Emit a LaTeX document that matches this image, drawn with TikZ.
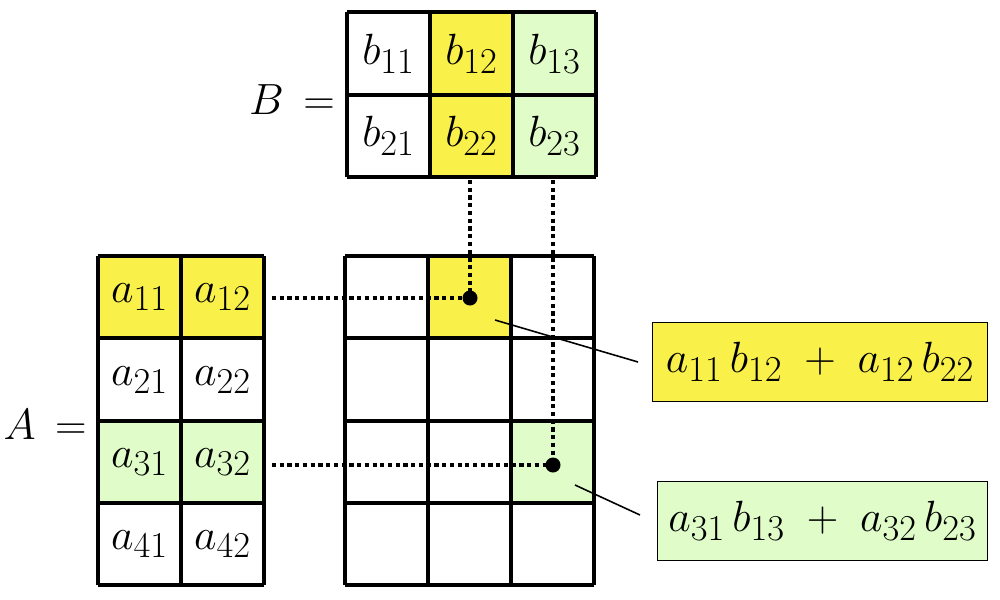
\documentclass[tikz,border=0pt]{standalone}
\begin{document}
\begin{tikzpicture}[x=0.02cm,y=-0.02cm,
  grid/.style={line width=2.2pt},
  dots/.style={line width=2.4pt,dotted},
  txt/.style={font=\fontsize{27.5}{32}\selectfont},
  box/.style={draw,line width=0.6pt,minimum height=1.58cm,inner sep=4pt,font=\fontsize{27.5}{32}\selectfont}]
\definecolor{yel}{HTML}{F9F04A}
\definecolor{grn}{HTML}{E0FCC8}
\useasboundingbox (0,0) rectangle (1000,599);
% fills
\fill[yel] (98,256) rectangle (264,338);
\fill[grn] (98,421) rectangle (264,503);
\fill[yel] (430,12) rectangle (513,177);
\fill[grn] (513,12) rectangle (596,177);
\fill[yel] (428,256) rectangle (511,338);
\fill[grn] (511,421) rectangle (594,503);
% grids
\foreach \x in {98,181,264} \draw[grid] (\x,256) -- (\x,585);
\foreach \y in {256,338,421,503,585} \draw[grid] (98,\y) -- (264,\y);
\foreach \x in {347,430,513,596} \draw[grid] (\x,12) -- (\x,177);
\foreach \y in {12,95,177} \draw[grid] (347,\y) -- (596,\y);
\foreach \x in {345,428,511,594} \draw[grid] (\x,256) -- (\x,585);
\foreach \y in {256,338,421,503,585} \draw[grid] (345,\y) -- (594,\y);
% entries
\foreach \r/\y in {1/297,2/380,3/462,4/544}{
  \node[txt] (a\r1) at (139.5,\y) {$a_{\r1}$};
  \node[txt] (a\r2) at (222.5,\y) {$a_{\r2}$};}
\foreach \r/\y in {1/54,2/136}{
  \foreach \c/\x in {1/388.5,2/471.5,3/554.5}
    \node[txt] (b\r\c) at (\x,\y) {$b_{\r\c}$};}
\node[txt] (Beq) at (292,100) {$B\,=$};
\node[txt] (Aeq) at (45,425) {$A\,=$};
% dots
\coordinate (p1) at (470,298);
\coordinate (p2) at (553,465);
\coordinate (t1) at (470,180);
\coordinate (t2) at (553,180);
\coordinate (h1) at (272,298);
\coordinate (h2) at (272,465);
\draw[dots] (t1) -- (p1);
\draw[dots] (t2) -- (p2);
\draw[dots] (h1) -- (p1);
\draw[dots] (h2) -- (p2);
\fill (p1) circle (7.5);
\fill (p2) circle (7.5);
% labels
\node[box,fill=yel,anchor=west,minimum width=6.7cm] (L1) at (652,362) {$a_{11}\,b_{12}\;+\;a_{12}\,b_{22}$};
\node[box,fill=grn,anchor=west,minimum width=6.6cm] (L2) at (657,521) {$a_{31}\,b_{13}\;+\;a_{32}\,b_{23}$};
\coordinate (s1) at (495,320);
\coordinate (s2) at (575,485);
\draw[line width=0.9pt] (s1) -- (638,362);
\draw[line width=0.9pt] (s2) -- (640,515);
\end{tikzpicture}
\end{document}
